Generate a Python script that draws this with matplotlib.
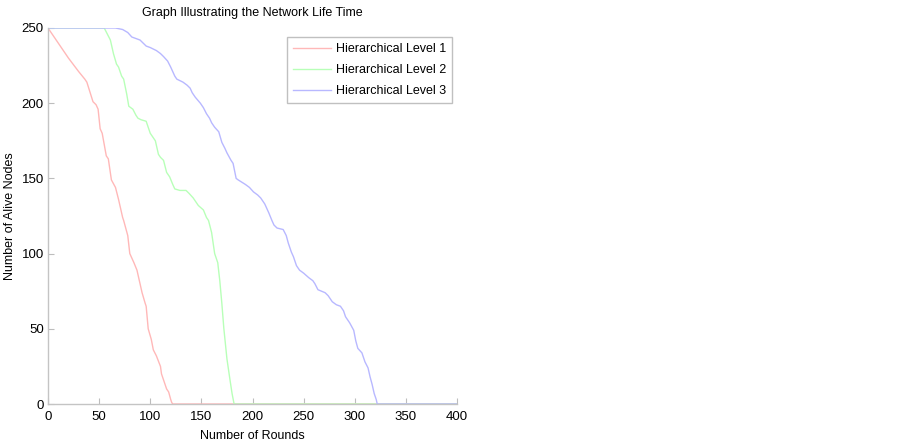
import matplotlib
matplotlib.use("Agg")
import matplotlib.pyplot as plt

plt.rcParams['font.family'] = ['Liberation Sans', 'DejaVu Sans']

# Hierarchical Level 1
x1 = [0, 10, 20, 30, 36, 38, 44, 47, 49, 51, 53, 57, 59, 62, 66, 69, 73, 74, 78, 80, 84, 87,
      90, 92, 95, 96, 98, 101, 103, 106, 110, 111, 113, 116, 118, 120, 121, 122, 400]
y1 = [250, 240, 230, 221, 216, 214, 201, 199, 196, 183, 180, 165, 163, 149, 144, 136, 124, 122,
      112, 100, 94, 89, 80, 74, 67, 65, 50, 43, 36, 32, 25, 20, 16, 10, 8, 3, 1, 0, 0]

# Hierarchical Level 2
x2 = [0, 55, 58, 61, 64, 67, 69, 72, 74, 77, 79, 83, 86, 88, 91, 96, 100, 105, 108, 110, 113,
      116, 119, 122, 124, 129, 135, 138, 142, 147, 152, 155, 157, 160, 163, 166, 168, 170, 172,
      175, 178, 180, 182, 400]
y2 = [250, 250, 246, 242, 233, 226, 224, 218, 216, 206, 198, 196, 192, 190, 189, 188, 180, 175,
      166, 164, 162, 154, 151, 146, 143, 142, 142, 140, 137, 132, 129, 124, 122, 114, 100, 94,
      82, 67, 50, 30, 16, 7, 0, 0]

# Hierarchical Level 3
x3 = [0, 66, 73, 78, 82, 86, 90, 96, 100, 106, 110, 113, 117, 120, 124, 126, 132, 136, 139, 141,
      144, 149, 152, 155, 158, 160, 163, 167, 170, 173, 175, 179, 181, 184, 186, 193, 197, 201,
      205, 208, 212, 216, 219, 221, 224, 230, 233, 235, 238, 240, 243, 246, 250, 255, 259, 261,
      264, 271, 274, 278, 282, 286, 289, 291, 293, 295, 299, 301, 303, 307, 310, 313, 315, 317,
      319, 321, 322, 400]
y3 = [250, 250, 249, 247, 244, 243, 242, 238, 237, 235, 233, 231, 228, 224, 218, 216, 214, 212,
      210, 207, 204, 200, 197, 193, 190, 187, 184, 181, 174, 170, 167, 162, 160, 150, 149, 146,
      144, 141, 139, 137, 133, 127, 122, 119, 117, 116, 112, 107, 101, 98, 92, 89, 87, 84, 82,
      80, 76, 74, 72, 68, 66, 65, 62, 58, 56, 54, 49, 42, 37, 34, 28, 24, 18, 13, 7, 3, 0, 0]

labels = ['Hierarchical Level 1', 'Hierarchical Level 2', 'Hierarchical Level 3']
colors = ['#ffb8b8', '#b8ffb8', '#b8b8ff']
xticks = [0, 50, 100, 150, 200, 250, 300, 350, 400]
yticks = [0, 50, 100, 150, 200, 250]

fig = plt.figure(figsize=(9, 4.48), dpi=100)
ax = fig.add_axes([48/900, 1-404/448, 409/900, 376/448])

for xs, ys, c, lab in zip([x1, x2, x3], [y1, y2, y3], colors, labels):
    ax.plot(xs, ys, color=c, lw=1.0, label=lab)

ax.set_xlim(0, 400)
ax.set_ylim(0, 250)
ax.set_xticks(xticks)
ax.set_yticks(yticks)
ax.tick_params(direction='in', length=4, color='#bdbdbd', labelsize=9.5)
ax.tick_params(axis='x', pad=5)
ax.tick_params(axis='y', pad=3)
for s in ['top', 'right']:
    ax.spines[s].set_visible(False)
for s in ['left', 'bottom']:
    ax.spines[s].set_color('#c4c4c4')
    ax.spines[s].set_linewidth(1.0)

ax.set_title('Graph Illustrating the Network Life Time', fontsize=9, pad=8.5)
ax.set_xlabel('Number of Rounds', fontsize=9, labelpad=5)
ax.set_ylabel('Number of Alive Nodes', fontsize=9, labelpad=4)

leg = ax.legend(loc='upper right', bbox_to_anchor=(452/900, 1-37/448), bbox_transform=fig.transFigure,
                borderaxespad=0, fontsize=9, fancybox=False, framealpha=1, edgecolor='#c0c0c0',
                handlelength=3.0, handletextpad=0.4, labelspacing=0.72, borderpad=0.5)
leg.get_frame().set_linewidth(1.0)

fig.savefig('out.png', dpi=100)
